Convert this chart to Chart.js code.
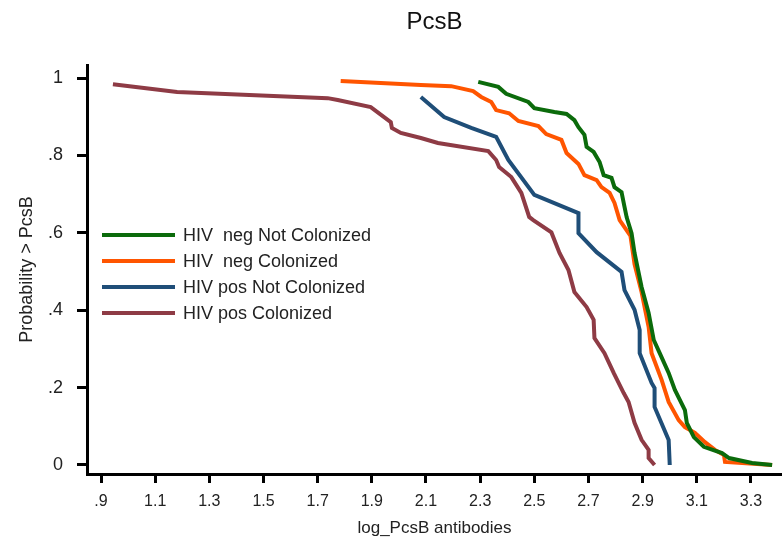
<!DOCTYPE html>
<html lang="en">
<head>
  <meta charset="UTF-8" />
  <title>PcsB</title>
  <script src="https://cdn.jsdelivr.net/npm/chart.js"></script>
  <style>
    html, body { margin: 0; padding: 0; background: #fff; }
    canvas { display: block; }
  </style>
</head>
<body>
  <canvas id="pcsbChart" width="782" height="545"></canvas>

  <script>
    const xTicks = [0.9, 1.1, 1.3, 1.5, 1.7, 1.9, 2.1, 2.3, 2.5, 2.7, 2.9, 3.1, 3.3];
    const yTicks = [0, 0.2, 0.4, 0.6, 0.8, 1];

    const seriesNames = ['HIV  neg Not Colonized', 'HIV  neg Colonized', 'HIV pos Not Colonized', 'HIV pos Colonized'];
    const seriesColors = ['#0b6b0b', '#ff5500', '#1f4e78', '#8e3b45'];

    // HIV neg, not colonized
    const negNotColX = [2.293, 2.367, 2.396, 2.478, 2.5, 2.574, 2.619, 2.648, 2.663, 2.685, 2.693, 2.719, 2.741, 2.756, 2.785, 2.796, 2.822, 2.833, 2.841, 2.859, 2.870, 2.896, 2.922, 2.941, 2.963, 2.996, 3.019, 3.056, 3.063, 3.089, 3.126, 3.193, 3.219, 3.304, 3.378];
    const negNotColY = [0.990, 0.977, 0.959, 0.938, 0.922, 0.912, 0.907, 0.891, 0.873, 0.853, 0.822, 0.809, 0.783, 0.749, 0.742, 0.718, 0.705, 0.667, 0.640, 0.599, 0.548, 0.460, 0.393, 0.323, 0.289, 0.238, 0.194, 0.142, 0.109, 0.072, 0.047, 0.031, 0.018, 0.005, 0.0];

    // HIV neg, colonized
    const negColX = [1.785, 2.081, 2.193, 2.274, 2.304, 2.341, 2.359, 2.407, 2.441, 2.515, 2.544, 2.6, 2.619, 2.663, 2.685, 2.730, 2.748, 2.778, 2.796, 2.815, 2.855, 2.870, 2.896, 2.922, 2.933, 2.970, 2.996, 3.033, 3.056, 3.093, 3.130, 3.167, 3.2, 3.204, 3.378];
    const negColY = [0.992, 0.982, 0.979, 0.966, 0.951, 0.938, 0.917, 0.909, 0.889, 0.876, 0.855, 0.840, 0.806, 0.778, 0.749, 0.736, 0.718, 0.703, 0.677, 0.633, 0.592, 0.519, 0.447, 0.357, 0.289, 0.220, 0.163, 0.116, 0.098, 0.083, 0.059, 0.039, 0.026, 0.008, 0.0];

    // HIV pos, not colonized
    const posNotColX = [2.081, 2.167, 2.267, 2.359, 2.404, 2.5, 2.663, 2.663, 2.730, 2.822, 2.833, 2.870, 2.889, 2.889, 2.933, 2.944, 2.944, 2.996, 3.0];
    const posNotColY = [0.951, 0.899, 0.871, 0.848, 0.788, 0.698, 0.651, 0.599, 0.550, 0.499, 0.452, 0.401, 0.349, 0.289, 0.212, 0.199, 0.150, 0.065, 0.0];

    // HIV pos, colonized
    const posColX = [0.944, 1.181, 1.737, 1.774, 1.896, 1.97, 1.974, 2.007, 2.081, 2.144, 2.33, 2.359, 2.37, 2.415, 2.452, 2.481, 2.496, 2.563, 2.593, 2.626, 2.648, 2.693, 2.719, 2.722, 2.759, 2.793, 2.83, 2.848, 2.870, 2.896, 2.922, 2.922, 2.944];
    const posColY = [0.984, 0.964, 0.948, 0.943, 0.925, 0.886, 0.871, 0.858, 0.845, 0.832, 0.811, 0.788, 0.770, 0.744, 0.703, 0.641, 0.633, 0.601, 0.548, 0.504, 0.447, 0.408, 0.375, 0.328, 0.289, 0.238, 0.186, 0.163, 0.109, 0.065, 0.039, 0.018, 0.0];

    const seriesX = [negNotColX, negColX, posNotColX, posColX];
    const seriesY = [negNotColY, negColY, posNotColY, posColY];

    const SANS = "'Liberation Sans', Arial, sans-serif";

    function stataLabel(v) {
      if (v === 0) return '0';
      if (v === 1) return '1';
      return (Math.round(v * 10) / 10).toFixed(1).replace(/^0\./, '.');
    }

    // title and inside legend
    const extrasPlugin = {
      id: 'extras',
      afterDraw(chart) {
        const ctx = chart.ctx;
        const area = chart.chartArea;
        ctx.save();
        ctx.fillStyle = '#111';
        ctx.font = '24px ' + SANS;
        ctx.textAlign = 'center';
        ctx.textBaseline = 'middle';
        ctx.fillText('PcsB', (area.left + area.right) / 2, 22);

        ctx.font = '18px ' + SANS;
        ctx.textAlign = 'left';
        seriesNames.forEach((name, i) => {
          const y = 235 + i * 26;
          ctx.strokeStyle = seriesColors[i];
          ctx.lineWidth = 4;
          ctx.beginPath();
          ctx.moveTo(102, y);
          ctx.lineTo(175, y);
          ctx.stroke();
          ctx.fillStyle = '#222';
          ctx.fillText(name, 183, y + 1);
        });
        ctx.restore();
      }
    };

    function renderChart() {
      const ctx = document.getElementById('pcsbChart').getContext('2d');
      new Chart(ctx, {
        type: 'line',
        data: {
          datasets: seriesNames.map((name, i) => ({
            label: name,
            data: seriesX[i].map((x, j) => ({ x, y: seriesY[i][j] })),
            borderColor: seriesColors[i],
            backgroundColor: seriesColors[i],
            borderWidth: 4,
            pointRadius: 0,
            tension: 0,
            fill: false
          }))
        },
        options: {
          responsive: false,
          animation: false,
          layout: { padding: { top: 65, left: 0, right: 0, bottom: 0 } },
          scales: {
            x: {
              type: 'linear',
              min: 0.8483,
              max: 3.4145,
              afterFit: s => { s.height = 71; },
              afterBuildTicks: s => { s.ticks = xTicks.map(v => ({ value: v })); },
              grid: { drawOnChartArea: false, drawTicks: true, tickLength: 9, tickWidth: 3, tickColor: '#000' },
              border: { display: true, color: '#000', width: 3 },
              ticks: {
                autoSkip: false,
                maxRotation: 0,
                padding: 9,
                color: '#222',
                font: { family: SANS, size: 16 },
                callback: v => stataLabel(v)
              },
              title: {
                display: true,
                text: 'log_PcsB antibodies',
                color: '#222',
                font: { family: SANS, size: 17 },
                padding: { top: 0, bottom: 6 }
              }
            },
            y: {
              min: -0.02326,
              max: 1.0336,
              afterFit: s => { s.width = 87; },
              afterBuildTicks: s => { s.ticks = yTicks.map(v => ({ value: v })); },
              grid: { drawOnChartArea: false, drawTicks: true, tickLength: 10, tickWidth: 3, tickColor: '#000' },
              border: { display: true, color: '#000', width: 3 },
              ticks: {
                padding: 14,
                color: '#222',
                font: { family: SANS, size: 18 },
                callback: v => stataLabel(v)
              },
              title: {
                display: true,
                text: 'Probability > PcsB',
                color: '#222',
                font: { family: SANS, size: 18 },
                padding: { top: 16, bottom: 0 }
              }
            }
          },
          plugins: {
            legend: { display: false },
            title: { display: false },
            tooltip: { enabled: false }
          }
        },
        plugins: [extrasPlugin]
      });
    }

    renderChart();
  </script>
</body>
</html>
